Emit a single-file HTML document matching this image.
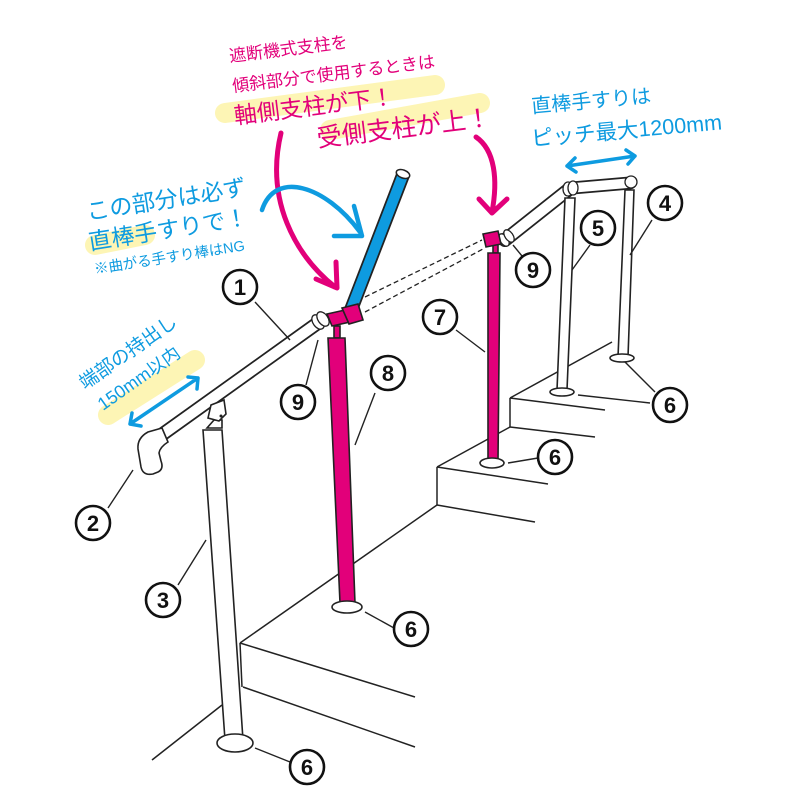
<!DOCTYPE html>
<html><head><meta charset="utf-8"><style>
html,body{margin:0;padding:0;background:#fff;}
svg{display:block}
.t{font-family:"Liberation Sans","Noto Sans CJK JP",sans-serif;}
</style></head><body>
<svg width="800" height="800" viewBox="0 0 800 800" xmlns="http://www.w3.org/2000/svg">
<g stroke="#222" stroke-width="1.5" fill="none">
<line x1="152" y1="760" x2="222" y2="705"/>
<line x1="240" y1="643" x2="242" y2="687"/>
<line x1="240" y1="643" x2="415" y2="697"/>
<line x1="243" y1="687" x2="415" y2="747"/>
<line x1="240" y1="643" x2="437" y2="505"/>
<line x1="437" y1="467" x2="437" y2="505"/>
<line x1="437" y1="467" x2="548" y2="484"/>
<line x1="437" y1="505" x2="535" y2="522"/>
<line x1="437" y1="467" x2="510" y2="427"/>
<line x1="510" y1="398" x2="510" y2="427"/>
<line x1="510" y1="398" x2="605" y2="410"/>
<line x1="510" y1="427" x2="595" y2="437"/>
<line x1="510" y1="398" x2="612" y2="342"/>
</g>
<g stroke="#222" stroke-width="1.3" stroke-dasharray="5,3">
<line x1="365" y1="297" x2="482" y2="240"/>
<line x1="365" y1="312" x2="483" y2="249"/>
</g>
<line x1="160" y1="436" x2="322" y2="320" stroke="#222" stroke-width="14" stroke-linecap="round"/>
<line x1="160" y1="436" x2="322" y2="320" stroke="#fff" stroke-width="10.5" stroke-linecap="round"/>
<path d="M162,428 L148,432 Q137,438 138,449 L141,467 Q143,476 153,474 L158,472 Q164,469 161,461 L159,453 Q160,447 168,442 Z" fill="#fff" stroke="#222" stroke-width="1.6"/>
<g fill="#fff" stroke="#222" stroke-width="1.3">
<ellipse cx="318" cy="322" rx="5" ry="8" transform="rotate(-35 318 322)"/>
<ellipse cx="323" cy="319" rx="5" ry="8" transform="rotate(-35 323 319)"/>
</g>
<line x1="505" y1="240" x2="568" y2="190" stroke="#222" stroke-width="14" stroke-linecap="round"/>
<line x1="505" y1="240" x2="568" y2="190" stroke="#fff" stroke-width="10.5" stroke-linecap="round"/>
<line x1="572" y1="188" x2="630" y2="183" stroke="#222" stroke-width="13" stroke-linecap="round"/>
<line x1="572" y1="188" x2="630" y2="183" stroke="#fff" stroke-width="9.5" stroke-linecap="round"/>
<g fill="#fff" stroke="#222" stroke-width="1.3">
<ellipse cx="568" cy="189" rx="5" ry="7"/><ellipse cx="573" cy="188" rx="5" ry="7"/>
<circle cx="631" cy="182" r="6"/>
<ellipse cx="504" cy="240" rx="4" ry="7" transform="rotate(-35 504 240)"/>
<ellipse cx="509" cy="236" rx="4" ry="7" transform="rotate(-35 509 236)"/>
</g>
<line x1="349" y1="315" x2="403" y2="175" stroke="#222" stroke-width="14"/>
<line x1="349" y1="315" x2="403" y2="175" stroke="#0e9be0" stroke-width="10.5"/>
<ellipse cx="403" cy="174" rx="7" ry="4" fill="#fff" stroke="#222" stroke-width="1.5" transform="rotate(20 403 174)"/>
<g fill="#fff" stroke="#222" stroke-width="1.6">
<path d="M203,430 L222,430 L243,740 L225,740 Z"/>
<ellipse cx="235" cy="743" rx="18" ry="9"/>
<path d="M225,740 L243,740 L243,742 Q234,746 225,742 Z" stroke="none"/>
<path d="M207,428 L222,428 L222,420 L214,420 Z"/>
<path d="M208,418 L211,405 L224,400 L226,414 L219,421 Z"/>
<path d="M565,198 L575,198 L567,390 L557,390 Z"/>
<ellipse cx="562" cy="392" rx="12" ry="4"/>
<path d="M625,190 L634,190 L628,357 L618,357 Z"/>
<ellipse cx="622" cy="358" rx="12" ry="4"/>
</g>
<circle cx="221" cy="416" r="1.5" fill="#222"/>
<g fill="#e2007a" stroke="#222" stroke-width="1.6">
<rect x="334" y="326" width="6" height="12"/>
<path d="M328,338 L345,338 L355,603 L340,603 Z"/>
<rect x="493" y="243" width="5" height="10"/>
<path d="M488,253 L500,253 L498,462 L488,462 Z"/>
<path d="M327,314 L345,310 L350,322 L332,326 Z"/>
<path d="M342,308 L358,304 L363,320 L349,324 Z"/>
<path d="M483,234 L498,231 L501,244 L486,247 Z"/>
</g>
<g fill="#fff" stroke="#222" stroke-width="1.6">
<ellipse cx="347" cy="607" rx="15" ry="6"/>
<ellipse cx="492" cy="463" rx="12" ry="5"/>
</g>
<g stroke="#222" stroke-width="1.4">
<line x1="255" y1="302" x2="290" y2="340"/>
<line x1="108" y1="508" x2="133" y2="470"/>
<line x1="178" y1="585" x2="206" y2="540"/>
<line x1="652" y1="220" x2="630" y2="255"/>
<line x1="590" y1="245" x2="572" y2="270"/>
<line x1="255" y1="748" x2="290" y2="762"/>
<line x1="365" y1="612" x2="394" y2="628"/>
<line x1="508" y1="463" x2="538" y2="458"/>
<line x1="578" y1="395" x2="650" y2="403"/>
<line x1="625" y1="362" x2="655" y2="392"/>
<line x1="456" y1="330" x2="485" y2="352"/>
<line x1="375" y1="393" x2="355" y2="445"/>
<line x1="306" y1="385" x2="318" y2="340"/>
<line x1="522" y1="256" x2="513" y2="245"/>
</g>
<g fill="#fff" stroke="#111" stroke-width="2.6">
<circle cx="240" cy="287" r="17"/><circle cx="93" cy="523" r="17"/><circle cx="163" cy="600" r="17"/>
<circle cx="665" cy="203" r="17"/><circle cx="598" cy="228" r="17"/><circle cx="440" cy="317" r="17"/>
<circle cx="388" cy="373" r="17"/><circle cx="298" cy="402" r="17"/><circle cx="533" cy="270" r="17"/>
<circle cx="307" cy="767" r="17"/><circle cx="411" cy="629" r="17"/><circle cx="555" cy="457" r="17"/><circle cx="670" cy="405" r="17"/>
</g>
<g class="t" font-size="22" font-weight="bold" fill="#111" text-anchor="middle">
<text x="240" y="295">1</text><text x="93" y="531">2</text><text x="163" y="608">3</text>
<text x="665" y="211">4</text><text x="598" y="236">5</text><text x="440" y="325">7</text>
<text x="388" y="381">8</text><text x="298" y="410">9</text><text x="533" y="278">9</text>
<text x="307" y="775">6</text><text x="411" y="637">6</text><text x="555" y="465">6</text><text x="670" y="413">6</text>
</g>
<g stroke="#fdf5b5" stroke-width="20" stroke-linecap="round" fill="none">
<line x1="225" y1="113" x2="435" y2="85"/>
<line x1="330" y1="130" x2="480" y2="103"/>
<line x1="95" y1="245" x2="145" y2="235"/>
<line x1="108" y1="415" x2="195" y2="360"/>
</g>
<g fill="none" stroke-linecap="round" stroke-linejoin="round">
<path d="M281,133 C265,200 295,255 335,287" stroke="#e2007a" stroke-width="5"/>
<path d="M316,279 L337,288 L336,262" stroke="#e2007a" stroke-width="5"/>
<path d="M476,137 C495,150 498,180 492,212" stroke="#e2007a" stroke-width="5"/>
<path d="M479,199 L492,213 L507,199" stroke="#e2007a" stroke-width="5"/>
<path d="M262,210 C275,170 325,185 360,232" stroke="#0e9be0" stroke-width="4.5"/>
<path d="M334,236 L362,236 L354,206" stroke="#0e9be0" stroke-width="4.5"/>
<path d="M567,166 L635,156 M575,158 L567,166 L576,172 M626,150 L635,156 L628,164" stroke="#0e9be0" stroke-width="3.5"/>
<path d="M130,424 L198,378 M132,413 L130,424 L141,426 M188,377 L198,378 L197,389" stroke="#0e9be0" stroke-width="3.5"/>
</g>
<g class="t" fill="#e2007a">
<text x="230" y="62" font-size="17" transform="rotate(-7 230 62)">遮断機式支柱を</text>
<text x="233" y="92" font-size="17" transform="rotate(-7 233 92)">傾斜部分で使用するときは</text>
<text x="235" y="124" font-size="23" transform="rotate(-7 235 124)">軸側支柱が下！</text>
<text x="318" y="147" font-size="25" transform="rotate(-7 318 147)">受側支柱が上！</text>
</g>
<g class="t" fill="#0e9be0">
<text x="88" y="220" font-size="23" transform="rotate(-9 88 220)">この部分は必ず</text>
<text x="90" y="250" font-size="23" transform="rotate(-9 90 250)">直棒手すりで！</text>
<text x="95" y="274" font-size="14.5" transform="rotate(-9 95 274)">※曲がる手すり棒はNG</text>
<text x="85" y="390" font-size="19" transform="rotate(-35 85 390)">端部の持出し</text>
<text x="103" y="411" font-size="18" transform="rotate(-35 103 411)">150mm以内</text>
<text x="532" y="113" font-size="20" transform="rotate(-5 532 113)">直棒手すりは</text>
<text x="532" y="146" font-size="21.5" transform="rotate(-5 532 146)">ピッチ最大1200mm</text>
</g>
</svg>
</body></html>
